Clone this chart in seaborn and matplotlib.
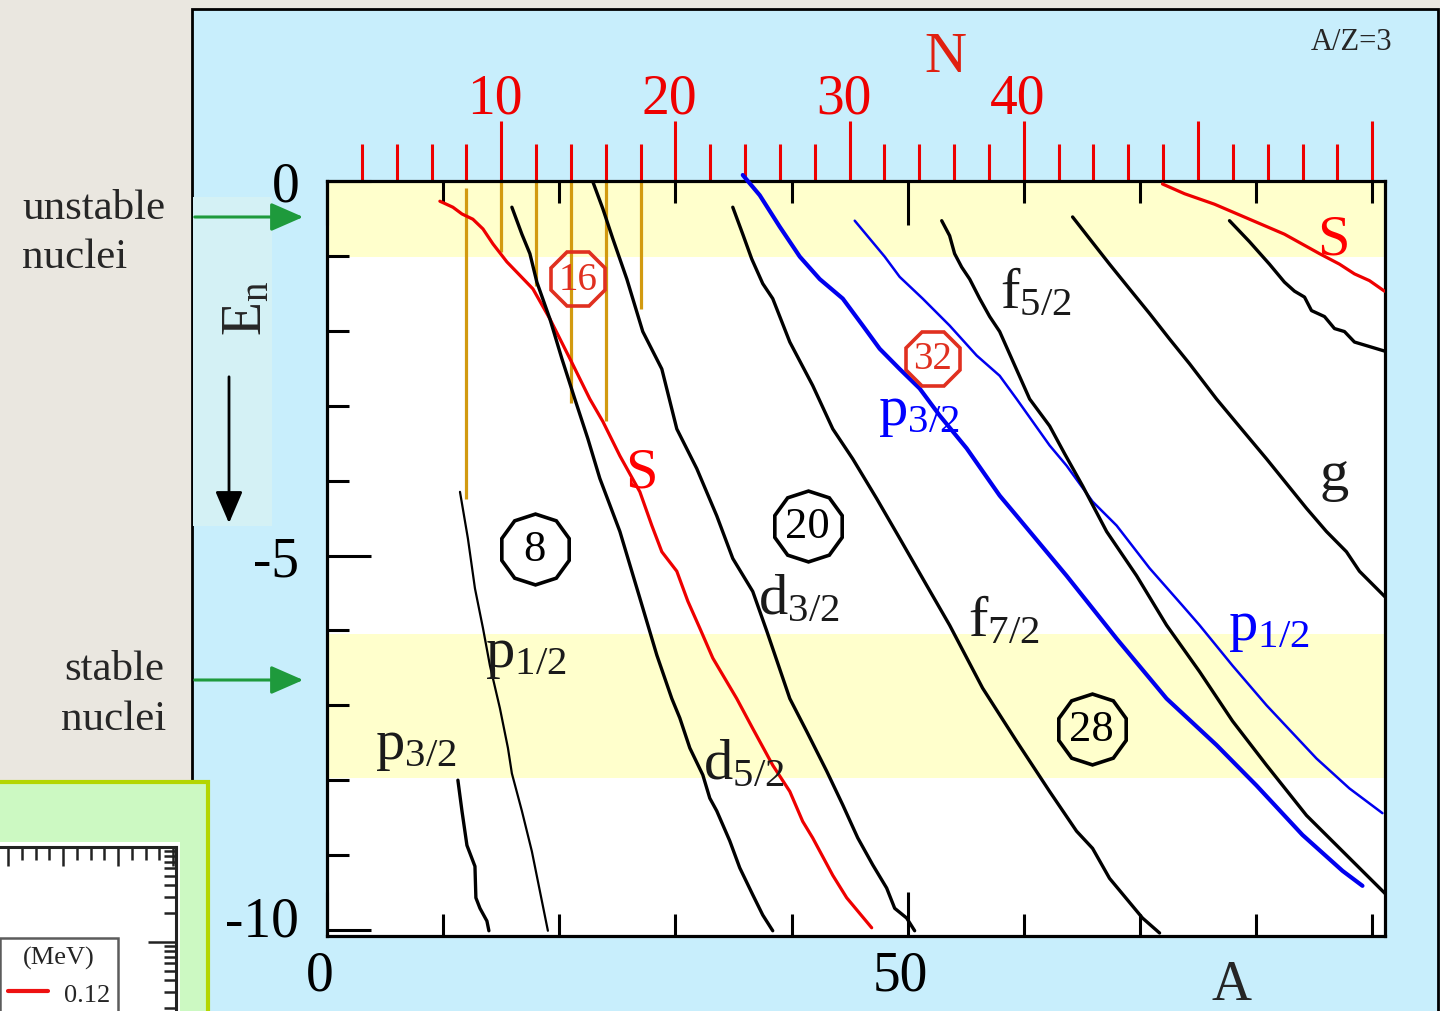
import numpy as np
import matplotlib
matplotlib.use("Agg")
import matplotlib.pyplot as plt
import matplotlib.transforms as mtransforms
import seaborn as sns
from matplotlib.patches import Rectangle, FancyArrowPatch
from matplotlib.lines import Line2D
from matplotlib.ticker import FixedLocator, MultipleLocator, LogLocator, NullFormatter

# ---------------------------------------------------------------------------
# Neutron single-particle energies E_n (MeV) versus mass number A, A/Z = 3
# ---------------------------------------------------------------------------
p32_A = [11.27, 11.62, 12.05, 12.74, 12.82, 13.17, 13.77, 13.94]
p32_E = [-8.00, -8.41, -8.87, -9.15, -9.57, -9.71, -9.88, -10.01]

p12_A = [11.45, 12.13, 12.74, 13.43, 14.03, 14.89, 15.58, 15.92, 16.78, 17.64, 18.33, 19.02]
p12_E = [-4.15, -4.77, -5.44, -5.97, -6.47, -7.04, -7.57, -7.91, -8.41, -8.95, -9.48, -10.01]

s12_A = [9.72, 10.84, 11.62, 12.56, 13.43, 14.29, 15.49, 17.73, 19.19, 20.91, 22.63, 23.75,
         25.22, 26.94, 27.97, 28.83, 30.12, 31.07, 32.10, 33.22, 35.28, 36.66, 38.38, 39.85,
         40.96, 41.82, 43.55, 44.75, 46.90]
s12_E = [-0.27, -0.35, -0.44, -0.51, -0.64, -0.84, -1.08, -1.44, -1.84, -2.37, -2.91, -3.21,
         -3.67, -4.15, -4.60, -4.95, -5.21, -5.61, -5.97, -6.37, -6.91, -7.31, -7.80, -8.15,
         -8.55, -8.77, -9.27, -9.57, -9.97]

d52_A = [15.92, 16.78, 17.47, 18.07, 19.19, 20.22, 21.34, 22.46, 23.49, 25.22, 26.94, 28.40,
         29.69, 30.38, 31.24, 32.36, 32.96, 33.56, 34.68, 35.54, 36.66, 37.52, 38.38]
d52_E = [-0.35, -0.71, -0.97, -1.35, -1.84, -2.37, -2.91, -3.44, -3.97, -4.68, -5.57, -6.33,
         -6.91, -7.17, -7.57, -7.93, -8.24, -8.41, -8.81, -9.17, -9.53, -9.80, -10.01]

d32_A = [22.89, 23.75, 24.61, 25.82, 26.68, 27.19, 28.83, 30.12, 31.84, 33.56, 34.94, 36.66,
         37.87, 39.85, 41.31, 43.03, 44.41, 45.70, 46.99, 48.19, 48.88, 49.91, 50.60]
d32_E = [-0.01, -0.37, -0.77, -1.31, -1.75, -2.01, -2.51, -3.31, -3.84, -4.47, -5.04, -5.48,
         -6.01, -6.91, -7.35, -7.88, -8.33, -8.77, -9.13, -9.44, -9.71, -9.84, -10.01]

f72_A = [34.94, 35.80, 36.57, 37.52, 38.38, 39.85, 41.82, 43.55, 45.27, 47.33, 49.31, 51.64,
         53.61, 56.45, 59.38, 62.22, 64.54, 65.92, 67.38, 70.22, 71.69]
f72_E = [-0.35, -0.71, -1.04, -1.37, -1.57, -2.15, -2.73, -3.31, -3.71, -4.24, -4.77, -5.40,
         -5.93, -6.77, -7.48, -8.15, -8.68, -8.91, -9.31, -9.84, -10.04]

p32b_A = [35.80, 37.26, 38.98, 40.71, 42.43, 44.41, 46.13, 47.59, 49.31, 51.03, 52.75, 55.08,
          57.92, 59.38, 63.68, 67.99, 72.29, 76.59, 80.03, 83.99, 87.44, 89.16]
p32b_E = [0.08, -0.19, -0.61, -1.01, -1.31, -1.57, -1.93, -2.24, -2.51, -2.77, -3.13, -3.57,
          -4.20, -4.47, -5.27, -6.11, -6.91, -7.53, -8.07, -8.73, -9.21, -9.41]

p12b_A = [45.44, 46.73, 48.02, 49.31, 51.29, 53.61, 55.94, 57.92, 59.38, 62.22, 63.68, 65.92,
          67.99, 70.83, 73.67, 75.13, 77.97, 80.90, 85.20, 88.04, 90.88]
p12b_E = [-0.53, -0.77, -1.01, -1.28, -1.57, -1.93, -2.33, -2.60, -2.91, -3.53, -3.80, -4.28,
          -4.60, -5.17, -5.67, -5.93, -6.47, -7.00, -7.71, -8.11, -8.44]

f52_A = [52.93, 53.61, 54.04, 54.65, 55.34, 56.20, 57.06, 57.92, 58.78, 59.64, 60.50, 62.22,
         63.51, 65.06, 67.13, 69.71, 72.29, 75.13, 77.97, 80.90, 84.34, 88.04, 91.22]
f52_E = [-0.53, -0.73, -0.97, -1.15, -1.31, -1.57, -1.81, -2.01, -2.31, -2.61, -2.91, -3.27,
         -3.64, -4.07, -4.68, -5.27, -5.93, -6.55, -7.21, -7.80, -8.47, -9.04, -9.53]

g_A = [64.20, 65.66, 67.38, 69.10, 70.83, 72.55, 74.27, 76.59, 78.74, 80.90, 82.62, 84.34,
       86.06, 87.78, 88.90, 91.22]
g_E = [-0.48, -0.77, -1.11, -1.44, -1.77, -2.11, -2.44, -2.91, -3.31, -3.71, -4.04, -4.37,
       -4.68, -4.95, -5.21, -5.57]

g2_A = [77.71, 79.43, 81.15, 82.44, 83.30, 84.17, 84.77, 85.89, 86.75, 87.61, 88.47, 89.76, 91.05]
g2_E = [-0.53, -0.81, -1.11, -1.35, -1.47, -1.55, -1.73, -1.81, -1.97, -2.01, -2.15, -2.21, -2.27]

s2_A = [71.94, 73.84, 76.42, 79.43, 82.44, 85.46, 87.18, 88.47, 89.76, 91.05]
s2_E = [-0.04, -0.17, -0.31, -0.51, -0.71, -0.97, -1.11, -1.24, -1.33, -1.47]

# neutron-number markers (vertical bars hanging from the N axis)
bar_N = [8, 10, 12, 14, 16, 18]
bar_Etop = [-0.10, 0.0, 0.0, 0.0, 0.0, 0.0]
bar_Ebot = [-4.24, -0.95, -1.40, -2.97, -3.21, -1.71]

# magic numbers
magic_lab = ["8", "16", "20", "32", "28"]
magic_A = [17.90, 21.60, 41.39, 52.15, 65.83]
magic_E = [-4.91, -1.31, -4.61, -2.37, -7.31]
magic_red = [False, True, False, True, False]

# orbital labels
orb_text = ["p", "p", "d", "d", "f", "f", "p", "p", "g", "S", "S"]
orb_sub = ["1/2", "3/2", "5/2", "3/2", "7/2", "5/2", "3/2", "1/2", "", "", ""]
orb_A = [13.60, 4.13, 32.36, 37.09, 55.16, 57.92, 47.42, 77.54, 85.46, 25.65, 85.28]
orb_E = [-6.48, -7.71, -7.97, -5.77, -6.07, -1.68, -3.24, -6.11, -4.11, -4.08, -0.97]
orb_col = ["k", "k", "k", "k", "k", "k", "blue", "blue", "k", "red", "red"]

# energy bands (MeV)
band_unstable = (-1.01, 0.0)
band_stable = (-7.97, -6.05)

top_ticks_N = [10, 20, 30, 40, 50, 60]
top_labels_N = ["10", "20", "30", "40", "", ""]

# ---------------------------------------------------------------------------
sns.set_theme(style="white")
plt.rcParams["font.family"] = ["Liberation Serif", "DejaVu Serif"]
plt.rcParams["mathtext.fontset"] = "custom"
plt.rcParams["mathtext.rm"] = "Liberation Serif"
plt.rcParams["mathtext.it"] = "Liberation Serif:italic"
plt.rcParams["axes.unicode_minus"] = False

W, H = 1440, 1012
fig = plt.figure(figsize=(W / 100, H / 100), dpi=100)
fig.patch.set_facecolor("#EAE7E0")


def fx(px):
    return px / W


def fy(py):
    return 1 - py / H


def shift(dx_px, dy_px):
    return mtransforms.ScaledTranslation(dx_px / 100, dy_px / 100, fig.dpi_scale_trans)


# light-blue slide panel and the pale strip behind the energy arrow
fig.add_artist(Rectangle((fx(192), fy(1030)), fx(1438 - 192), (1030 - 10) / H,
                         transform=fig.transFigure, fc="#C8EEFC", ec="black", lw=2, zorder=-3))
fig.add_artist(Rectangle((fx(193), fy(527)), fx(272 - 193), (527 - 198) / H,
                         transform=fig.transFigure, fc="#D4F1F5", ec="none", zorder=-2))

# main axes
ax = fig.add_axes([fx(327), fy(937), fx(1385 - 327), (937 - 182) / H])
ax.set_facecolor("white")
ax.set_xlim(0, 91.1)
ax.set_ylim(-10.08, 0)

ax.axhspan(*band_unstable, color="#FFFFCC", lw=0, zorder=0)
ax.axhspan(*band_stable, color="#FFFFCC", lw=0, zorder=0)

ax.vlines(np.array(bar_N) * 1.5, bar_Etop, bar_Ebot, color="#D29A10", lw=2.3, zorder=2)

curves = [
    (p32_A, p32_E, "black", 2.4),
    (p12_A, p12_E, "black", 1.6),
    (s12_A, s12_E, "#EE0000", 2.3),
    (d52_A, d52_E, "black", 2.4),
    (d32_A, d32_E, "black", 2.4),
    (f72_A, f72_E, "black", 2.4),
    (p32b_A, p32b_E, "#0000EE", 3.0),
    (p12b_A, p12b_E, "#0000EE", 1.8),
    (f52_A, f52_E, "black", 2.4),
    (g_A, g_E, "black", 2.4),
    (g2_A, g2_E, "black", 2.4),
    (s2_A, s2_E, "#EE0000", 2.3),
]
for xa, ye, col, lw in curves:
    sns.lineplot(x=xa, y=ye, ax=ax, color=col, lw=lw, sort=False, estimator=None,
                 zorder=3, clip_on=False if ye[0] > 0 else True)

for lab, a, e, red in zip(magic_lab, magic_A, magic_E, magic_red):
    col = "#E03020" if red else "black"
    ax.plot([a], [e], marker="8" if red else (10, 0, 0), ms=42 if red else 51,
            mfc="none", mec=col, mew=2.6, zorder=4)
    ax.text(a, e, lab, color=col, fontsize=28 if red else 32, ha="center", va="center",
            zorder=5)

for t, s, a, e, c in zip(orb_text, orb_sub, orb_A, orb_E, orb_col):
    txt = t if not s else t + r"$_{\mathregular{" + s + "}}$"
    ax.text(a, e, txt, color=c, fontsize=42, ha="left", va="baseline", zorder=5)

# axes frame and ticks
for sp in ax.spines.values():
    sp.set_color("black")
    sp.set_linewidth(2.3)
ax.set_xticks([0, 50])
ax.set_xticklabels(["0", "50"])
ax.xaxis.set_minor_locator(FixedLocator([10, 20, 30, 40, 60, 70, 80, 90]))
ax.set_yticks([0, -5, -10])
ax.set_yticklabels(["0", "-5", "-10"])
ax.yaxis.set_minor_locator(FixedLocator([-1, -2, -3, -4, -6, -7, -8, -9]))
ax.tick_params(axis="both", which="both", direction="in", color="black", width=2.2,
               labelsize=40, labelcolor="black")
ax.tick_params(axis="both", which="major", length=32)
ax.tick_params(axis="both", which="minor", length=16)
ax.tick_params(axis="x", which="both", top=True, bottom=True, labeltop=False, pad=10)
ax.tick_params(axis="y", which="both", left=True, right=False, pad=20)
ax.set_xlabel("")
ax.set_ylabel("")
for lbl in ax.get_xticklabels():
    lbl.set_transform(lbl.get_transform() + shift(-7, 0))
ylbls = ax.get_yticklabels()
ylbls[-1].set_transform(ylbls[-1].get_transform() + shift(0, 15))

# neutron number axis (N = 2A/3 for A/Z = 3)
sec = ax.secondary_xaxis("top", functions=(lambda a: a * 2 / 3, lambda n: n * 1.5))
sec.set_xticks(top_ticks_N)
sec.set_xticklabels(top_labels_N)
sec.xaxis.set_minor_locator(FixedLocator(list(range(2, 62, 2))))
sec.tick_params(which="both", direction="out", colors="#EE0000", width=2.2,
                labelsize=40, pad=-2.5)
sec.tick_params(which="major", length=43)
sec.tick_params(which="minor", length=27)
sec.spines["top"].set_visible(False)
for lbl in sec.get_xticklabels():
    lbl.set_transform(lbl.get_transform() + shift(-6, 0))

# figure-level annotations
fig.text(fx(945), fy(58), "N", color="#E02010", fontsize=42, ha="center", va="center")
fig.text(fx(1352), fy(42), "A/Z=3", fontsize=22, ha="center", va="center")
fig.text(fx(1232), fy(986), "A", fontsize=40, ha="center", va="center")
fig.text(fx(247), fy(308), r"E$_{\mathregular{n}}$", fontsize=40, rotation=90,
         ha="center", va="center")
fig.add_artist(FancyArrowPatch((fx(229), fy(375)), (fx(229), fy(527)),
                               transform=fig.transFigure,
                               arrowstyle="-|>,head_length=0.7,head_width=0.3",
                               mutation_scale=28, color="black", lw=2))

fig.text(fx(22), fy(219), "unstable", fontsize=31, ha="left", va="baseline")
fig.text(fx(22), fy(268), "nuclei", fontsize=31, ha="left", va="baseline")
fig.text(fx(164), fy(680), "stable", fontsize=31, ha="right", va="baseline")
fig.text(fx(166), fy(730), "nuclei", fontsize=31, ha="right", va="baseline")

for ya in (218, 681):
    fig.add_artist(FancyArrowPatch((fx(192), fy(ya)), (fx(306), fy(ya)),
                                   transform=fig.transFigure,
                                   arrowstyle="-|>,head_length=0.8,head_width=0.35",
                                   mutation_scale=25, color="#1E9A3C", lw=2.2, zorder=6))

# green panel with a small inset chart
fig.add_artist(Rectangle((fx(-10), fy(1030)), fx(208 + 10), (1030 - 783) / H,
                         transform=fig.transFigure, fc="#CCF9C2", ec="#B4D600", lw=3, zorder=2))
fig.add_artist(Rectangle((fx(-10), fy(1030)), fx(180 + 10), (1030 - 843) / H,
                         transform=fig.transFigure, fc="white", ec="none", zorder=2.5))

ins = fig.add_axes([fx(-144), fy(1113), fx(176 + 144), (1113 - 848) / H])
ins.set_zorder(3)
ins.set_facecolor("white")
ins.set_xlim(0.236, 6.054)
ins.set_yscale("log")
ins.set_ylim(10 ** -2.79, 1)
ins.xaxis.set_major_locator(MultipleLocator(1))
ins.xaxis.set_minor_locator(MultipleLocator(0.25))
ins.yaxis.set_major_locator(LogLocator(base=10))
ins.yaxis.set_minor_locator(LogLocator(base=10, subs=np.arange(2, 10)))
ins.xaxis.set_major_formatter(NullFormatter())
ins.yaxis.set_major_formatter(NullFormatter())
ins.yaxis.set_minor_formatter(NullFormatter())
ins.tick_params(which="both", direction="in", top=True, bottom=False, left=False,
                right=True, labeltop=False, labelbottom=False, labelleft=False,
                labelright=False, color="#222222", width=1.8)
ins.tick_params(axis="x", which="major", length=14)
ins.tick_params(axis="x", which="minor", length=9)
ins.tick_params(axis="y", which="major", length=20)
ins.tick_params(axis="y", which="minor", length=9)
for sp in ins.spines.values():
    sp.set_color("#222222")
    sp.set_linewidth(2.2)
leg = ins.legend(handles=[Line2D([], [], color="#EE1111", lw=3)], labels=["0.12"],
                 title="(MeV)", loc="upper right",
                 bbox_to_anchor=(fx(118), fy(939)), bbox_transform=fig.transFigure,
                 fontsize=19, title_fontsize=19, frameon=True, fancybox=False,
                 borderaxespad=0, borderpad=0.3, handlelength=1.5, handletextpad=0.6)
leg.get_frame().set_edgecolor("#333333")
leg.get_frame().set_linewidth(1.8)

fig.savefig("out.png", dpi=100, facecolor=fig.get_facecolor())
